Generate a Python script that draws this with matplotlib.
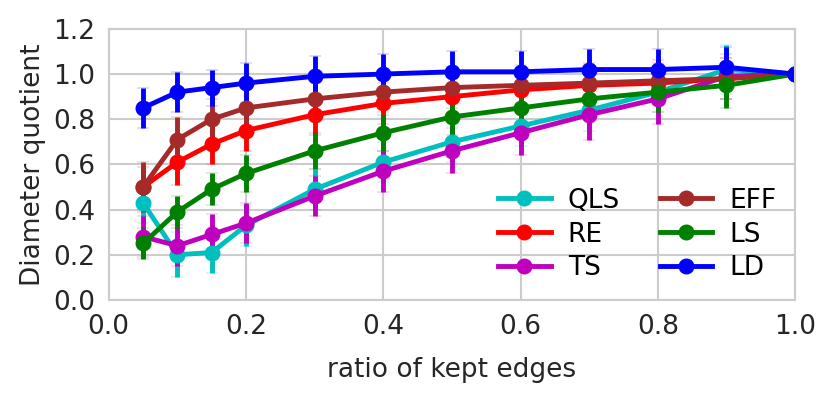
import numpy as np
import matplotlib.pyplot as plt
from matplotlib.lines import Line2D

# ratio of kept edges
x = [0.05, 0.1, 0.15, 0.2, 0.3, 0.4, 0.5, 0.6, 0.7, 0.8, 0.9, 1.0]

# mean diameter quotient per method
qls = [0.43, 0.20, 0.21, 0.33, 0.49, 0.61, 0.70, 0.77, 0.84, 0.92, 1.02, 1.0]
re = [0.50, 0.61, 0.69, 0.75, 0.82, 0.87, 0.90, 0.93, 0.95, 0.96, 0.98, 1.0]
ts = [0.28, 0.24, 0.29, 0.34, 0.46, 0.57, 0.66, 0.74, 0.82, 0.89, 0.99, 1.0]
eff = [0.50, 0.71, 0.80, 0.85, 0.89, 0.92, 0.94, 0.95, 0.96, 0.97, 0.98, 1.0]
ls = [0.25, 0.39, 0.49, 0.56, 0.66, 0.74, 0.81, 0.85, 0.89, 0.92, 0.95, 1.0]
ld = [0.85, 0.92, 0.94, 0.96, 0.99, 1.00, 1.01, 1.01, 1.02, 1.02, 1.03, 1.0]

# standard deviations
qls_err = [0.09, 0.10, 0.09, 0.09, 0.09, 0.09, 0.09, 0.09, 0.09, 0.09, 0.11, 0.0]
re_err = [0.09, 0.10, 0.09, 0.09, 0.09, 0.09, 0.09, 0.09, 0.09, 0.09, 0.09, 0.0]
ts_err = [0.09, 0.09, 0.09, 0.09, 0.09, 0.09, 0.10, 0.10, 0.11, 0.11, 0.10, 0.0]
eff_err = [0.11, 0.10, 0.09, 0.09, 0.09, 0.09, 0.09, 0.09, 0.09, 0.09, 0.09, 0.0]
ls_err = [0.07, 0.07, 0.07, 0.08, 0.08, 0.08, 0.08, 0.08, 0.08, 0.09, 0.10, 0.0]
ld_err = [0.09, 0.09, 0.08, 0.09, 0.09, 0.09, 0.09, 0.09, 0.09, 0.09, 0.09, 0.0]

names = ['QLS', 'RE', 'TS', 'EFF', 'LS', 'LD']
means = [qls, re, ts, eff, ls, ld]
errs = [qls_err, re_err, ts_err, eff_err, ls_err, ld_err]
colors = ['c', 'r', 'm', 'brown', 'g', 'b']

plt.rcParams['font.family'] = 'DejaVu Sans'
plt.rcParams['font.size'] = 19

fig = plt.figure(figsize=(8.3, 4.01), dpi=100)
ax = fig.add_axes([0.131, 0.252, 0.827, 0.676])

handles = []
for name, m, e, c in zip(names, means, errs, colors):
    ax.errorbar(x, m, yerr=e, color=c, marker='o', markersize=10.5,
                linewidth=3.5, elinewidth=3.5, capsize=4, capthick=0.2)
    handles.append(Line2D([], [], color=c, marker='o', markersize=10.5,
                          linewidth=3.5, label=name))

ax.set_xlim(0, 1.0)
ax.set_ylim(0, 1.2)
ax.set_xticks(np.arange(0, 1.01, 0.2))
ax.set_yticks(np.arange(0, 1.21, 0.2))
ax.grid(True, color='#cccccc', linewidth=1.5)
ax.set_axisbelow(True)
for s in ax.spines.values():
    s.set_color('#cccccc')
    s.set_linewidth(1.5)
ax.tick_params(length=0, pad=10, labelcolor='#262626')
ax.set_xlabel('ratio of kept edges', color='#262626', labelpad=12)
ax.set_ylabel('Diameter quotient', color='#262626', labelpad=5)

ax.legend(handles=handles, loc='lower right', ncol=2, frameon=False,
          fontsize=19, columnspacing=1.5, handlelength=2.0,
          handletextpad=0.65, labelspacing=0.3, borderaxespad=0.3)

plt.savefig('out.png', dpi=100)
